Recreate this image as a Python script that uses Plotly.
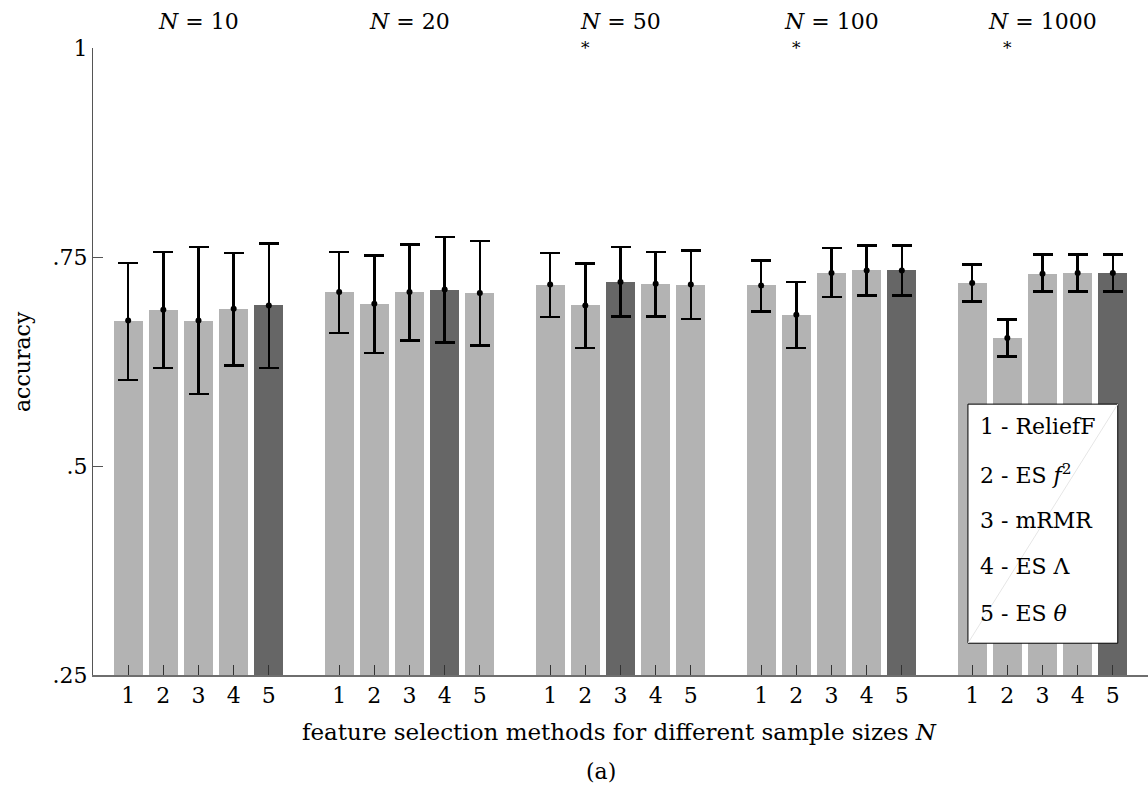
import plotly.graph_objects as go

# ---------------- data ----------------
sample_sizes = ["10", "20", "50", "100", "1000"]
method_labels = ["1", "2", "3", "4", "5"]
legend_labels = ["1 - ReliefF", "2 - ES <i>f</i><sup>2</sup>", "3 - mRMR",
                 "4 - ES \u039b", "5 - ES <i>\u03b8</i>"]

# mean accuracy per sample size (rows) and method (columns)
acc_mean = [
    [0.674, 0.687, 0.674, 0.688, 0.692],
    [0.708, 0.694, 0.708, 0.711, 0.707],
    [0.717, 0.692, 0.720, 0.718, 0.717],
    [0.716, 0.681, 0.731, 0.734, 0.734],
    [0.719, 0.653, 0.730, 0.731, 0.731],
]
acc_upper = [
    [0.743, 0.756, 0.762, 0.755, 0.766],
    [0.756, 0.752, 0.765, 0.774, 0.769],
    [0.755, 0.742, 0.762, 0.756, 0.758],
    [0.746, 0.720, 0.761, 0.764, 0.764],
    [0.741, 0.675, 0.753, 0.753, 0.753],
]
acc_lower = [
    [0.603, 0.617, 0.586, 0.620, 0.617],
    [0.659, 0.635, 0.650, 0.648, 0.644],
    [0.678, 0.641, 0.679, 0.679, 0.676],
    [0.685, 0.641, 0.702, 0.704, 0.704],
    [0.697, 0.631, 0.709, 0.709, 0.709],
]
best_method = [4, 3, 2, 4, 4]          # dark bar per sample size (0-based)
significant_groups = [2, 3, 4]         # groups with "*" above method 2
significant_method = 1

# ---------------- build ----------------
FONT = "DejaVu Serif"
FS = 22
LIGHT = "#b3b3b3"
DARK = "#666666"

# plot-area geometry in pixels (used only to place paper-referenced texts)
L, R, T, B = 93, 1148, 48, 675
PW, PH = R - L, B - T

def px_x(p):
    return (p - L) / PW

def px_y(p):
    return (B - p) / PH

xs, ys, hi, lo, cols, ticktext = [], [], [], [], [], []
for g in range(len(sample_sizes)):
    for m in range(len(method_labels)):
        x = g * 6 + m
        xs.append(x)
        ys.append(acc_mean[g][m])
        hi.append(acc_upper[g][m] - acc_mean[g][m])
        lo.append(acc_mean[g][m] - acc_lower[g][m])
        cols.append(DARK if m == best_method[g] else LIGHT)
        ticktext.append(method_labels[m])

fig = go.Figure()
fig.add_trace(go.Bar(
    x=xs, y=ys, width=0.82,
    marker=dict(color=cols, line=dict(width=0)),
    error_y=dict(type="data", symmetric=False, array=hi, arrayminus=lo,
                 color="black", thickness=2.6, width=10),
    showlegend=False, hoverinfo="skip",
))
fig.add_trace(go.Scatter(
    x=xs, y=ys, mode="markers",
    marker=dict(color="black", size=6),
    showlegend=False, hoverinfo="skip",
))

annotations = []
for g, n in enumerate(sample_sizes):
    annotations.append(dict(
        x=g * 6 + 2, y=px_y(22), xref="x", yref="paper",
        text="<i>N</i> = " + n, showarrow=False,
        font=dict(family=FONT, size=FS, color="black"),
        xanchor="center", yanchor="middle",
    ))
for g in significant_groups:
    annotations.append(dict(
        x=g * 6 + significant_method, y=px_y(48), xref="x", yref="paper",
        text="*", showarrow=False,
        font=dict(family=FONT, size=17, color="black"),
        xanchor="center", yanchor="middle",
    ))

# legend box (text only)
leg_y = [0.5467, 0.4904, 0.4354, 0.3792, 0.3230]
for txt, yy in zip(legend_labels, leg_y):
    annotations.append(dict(
        x=24.16, y=yy, xref="x", yref="y", text=txt, showarrow=False,
        font=dict(family=FONT, size=FS, color="black"),
        xanchor="left", yanchor="middle",
    ))

annotations.append(dict(
    x=px_x(22), y=px_y(362), xref="paper", yref="paper", text="accuracy",
    textangle=-90, showarrow=False,
    font=dict(family=FONT, size=FS, color="black"),
    xanchor="center", yanchor="middle",
))
annotations.append(dict(
    x=px_x(619), y=px_y(732), xref="paper", yref="paper",
    text="feature selection methods for different sample sizes <i>N</i>",
    showarrow=False, font=dict(family=FONT, size=23, color="black"),
    xanchor="center", yanchor="middle",
))
annotations.append(dict(
    x=px_x(601), y=px_y(771), xref="paper", yref="paper",
    text="(a)", showarrow=False, font=dict(family=FONT, size=FS, color="black"),
    xanchor="center", yanchor="middle",
))

shapes = [
    dict(type="rect", xref="x", yref="y", x0=23.88, x1=28.14, y0=0.288, y1=0.574,
         line=dict(color="black", width=1), fillcolor="white", layer="above"),
    dict(type="line", xref="x", yref="y", x0=23.88, x1=28.14, y0=0.288, y1=0.574,
         line=dict(color="#e6e6e6", width=1), layer="above"),
]

fig.update_layout(
    width=1148, height=789,
    margin=dict(l=L, r=1148 - R, t=T, b=789 - B, pad=0),
    paper_bgcolor="white", plot_bgcolor="white",
    font=dict(family=FONT, size=FS, color="black"),
    bargap=0,
    annotations=annotations,
    shapes=shapes,
    xaxis=dict(
        range=[-1, 29], tickmode="array", tickvals=xs, ticktext=ticktext,
        showline=True, linecolor="#6e6e6e", linewidth=2,
        ticks="inside", ticklen=10, tickcolor="#333333", tickwidth=1,
        showgrid=False, zeroline=False,
        tickfont=dict(family=FONT, size=FS, color="black"),
    ),
    yaxis=dict(
        range=[0.25, 1.0], tickmode="array",
        tickvals=[0.25, 0.5, 0.75, 1.0], ticktext=[".25", ".5", ".75", "1"],
        showline=True, linecolor="#555555", linewidth=1,
        ticks="inside", ticklen=10, tickcolor="#555555", tickwidth=1,
        showgrid=False, zeroline=False,
        tickfont=dict(family=FONT, size=FS, color="black"),
    ),
)

fig.write_html("out.html")
